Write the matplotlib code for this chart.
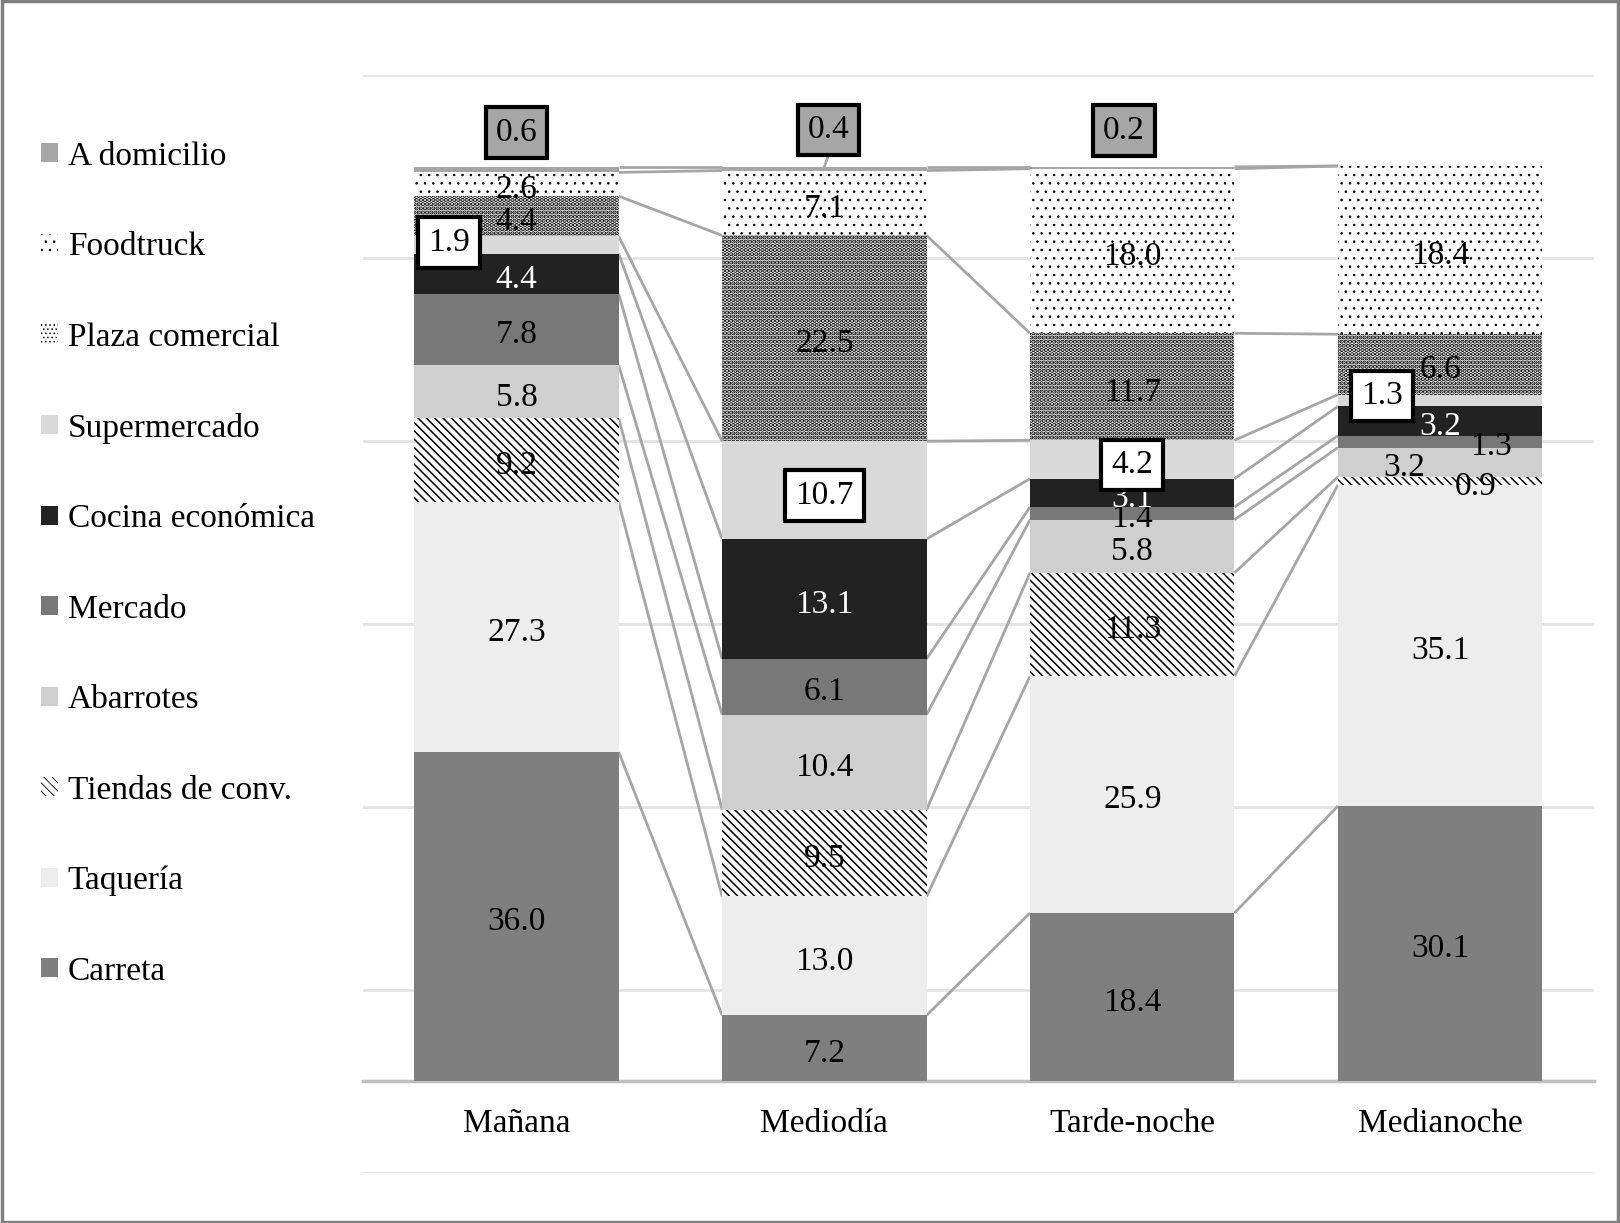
import matplotlib
matplotlib.use('Agg')
import matplotlib.pyplot as plt
from matplotlib.patches import Patch, Rectangle
import numpy as np

# ---------------- data ----------------
categories = ['Mañana', 'Mediodía', 'Tarde-noche', 'Medianoche']
series_names = ['Carreta', 'Taquería', 'Tiendas de conv.', 'Abarrotes', 'Mercado',
                'Cocina económica', 'Supermercado', 'Plaza comercial', 'Foodtruck',
                'A domicilio']
carreta = [36.0, 7.2, 18.4, 30.1]
taqueria = [27.3, 13.0, 25.9, 35.1]
tiendas = [9.2, 9.5, 11.3, 0.9]
abarrotes = [5.8, 10.4, 5.8, 3.2]
mercado = [7.8, 6.1, 1.4, 1.3]
cocina = [4.4, 13.1, 3.1, 3.2]
supermercado = [1.9, 10.7, 4.2, 1.3]
plaza = [4.4, 22.5, 11.7, 6.6]
foodtruck = [2.6, 7.1, 18.0, 18.4]
domicilio = [0.6, 0.4, 0.2, 0.0]
values = [carreta, taqueria, tiendas, abarrotes, mercado, cocina,
          supermercado, plaza, foodtruck, domicilio]

# ---------------- styles ----------------
plt.rcParams['font.family'] = ['Liberation Serif', 'DejaVu Serif']

styles = {
    'Carreta': dict(facecolor='#7f7f7f', edgecolor='#7f7f7f'),
    'Taquería': dict(facecolor='#ededed', edgecolor='#ededed'),
    'Tiendas de conv.': dict(facecolor='white', edgecolor='black', hatch='\\\\\\\\'),
    'Abarrotes': dict(facecolor='#cfcfcf', edgecolor='#cfcfcf'),
    'Mercado': dict(facecolor='#787878', edgecolor='#787878'),
    'Cocina económica': dict(facecolor='#222222', edgecolor='#222222'),
    'Supermercado': dict(facecolor='#d9d9d9', edgecolor='#d9d9d9'),
    'Plaza comercial': dict(facecolor='white', edgecolor='black', hatch='....'),
    'Foodtruck': dict(facecolor='white', edgecolor='black', hatch='..'),
    'A domicilio': dict(facecolor='#a6a6a6', edgecolor='#a6a6a6'),
}
hatch_lw = {'Tiendas de conv.': 1.1, 'Plaza comercial': 2.2, 'Foodtruck': 0.6}
label_color = {'Cocina económica': 'white'}
# label position overrides: (series, category index) -> (dx, y or None)
label_pos = {
    ('Supermercado', 0): (-0.22, 91.75),
    ('Supermercado', 3): (-0.19, 74.95),
    ('Mercado', 3): (0.165, None),
    ('Abarrotes', 3): (-0.115, None),
    ('Tiendas de conv.', 3): (0.115, None),
    ('A domicilio', 0): (0.0, 103.75),
    ('A domicilio', 1): (0.013, 104.05),
    ('A domicilio', 2): (-0.027, 104.0),
}
DY = -0.6
boxed = {'Supermercado': 'white', 'A domicilio': '#a6a6a6'}

FS = 24
W = 0.664


def apply_hatch_lw(patch, name):
    if name in hatch_lw and hasattr(patch, 'set_hatch_linewidth'):
        patch.set_hatch_linewidth(hatch_lw[name])


fig = plt.figure(figsize=(16.2, 12.23), dpi=100)
ax = fig.add_axes([0.2238, 0.0412, 0.984 - 0.2238, 0.9383 - 0.0412])
ax.set_xlim(-0.5, 3.5)
ax.set_ylim(-10, 110)

x = np.arange(len(categories))
bottom = np.zeros(len(categories))
tops_all = []
for name, vals in zip(series_names, values):
    vals = np.array(vals)
    if name in hatch_lw:
        plt.rcParams['hatch.linewidth'] = hatch_lw[name]
    bars = ax.bar(x, vals, W, bottom=bottom, linewidth=0, zorder=2, label=name,
                  **styles[name])
    for b in bars:
        apply_hatch_lw(b, name)
    tops = bottom + vals
    tops_all.append(tops)
    # series lines
    for i in range(len(categories) - 1):
        ax.plot([x[i] + W / 2, x[i + 1] - W / 2], [tops[i], tops[i + 1]],
                color='#a6a6a6', lw=2, zorder=1.8, solid_capstyle='butt')
    # labels
    for i, v in enumerate(vals):
        if v == 0:
            continue
        dx, yy = label_pos.get((name, i), (0.0, None))
        if yy is None:
            yy = bottom[i] + v / 2 + DY
        kw = {}
        if name in boxed:
            kw['bbox'] = dict(boxstyle='square,pad=0.3', facecolor=boxed[name],
                              edgecolor='black', linewidth=3)
        ax.text(x[i] + dx, yy, f'{v:.1f}', ha='center', va='center', fontsize=FS,
                color=label_color.get(name, 'black'), zorder=5, **kw)
    bottom = tops

# leader line for Mediodía "A domicilio" label
ax.plot([1.013, 1.0], [101.3, tops_all[-1][1]], color='#a6a6a6', lw=2, zorder=1.8)

# axes cosmetics
for s in ax.spines.values():
    s.set_visible(False)
ax.spines['bottom'].set_visible(True)
ax.spines['bottom'].set_position(('data', 0))
ax.spines['bottom'].set_color('#bfbfbf')
ax.spines['bottom'].set_linewidth(2.5)
ax.spines['bottom'].set_zorder(1.5)
ax.set_yticks([-10, 10, 30, 50, 70, 90, 110])
ax.set_yticklabels([])
ax.tick_params(axis='y', length=0)
ax.yaxis.grid(True, color='#e3e3e3', lw=2)
ax.set_axisbelow(True)
ax.set_xticks(x)
ax.set_xticklabels(categories, fontsize=FS)
ax.tick_params(axis='x', length=0, pad=20)

# legend
handles = [Patch(label=n, linewidth=0, **styles[n]) for n in series_names[::-1]]
for h, n in zip(handles, series_names[::-1]):
    apply_hatch_lw(h, n)
fig.legend(handles=handles, loc='upper left', bbox_to_anchor=(0.0253, 0.8845),
           frameon=False, fontsize=FS, handlelength=0.5, handleheight=0.5,
           handletextpad=0.3, labelspacing=1.8, borderpad=0, borderaxespad=0)

# figure border
fig.patches.append(Rectangle((0.001, 0.001), 0.998, 0.998, transform=fig.transFigure,
                             fill=False, edgecolor='#808080', linewidth=2.5))

fig.savefig('out.png', dpi=100)
